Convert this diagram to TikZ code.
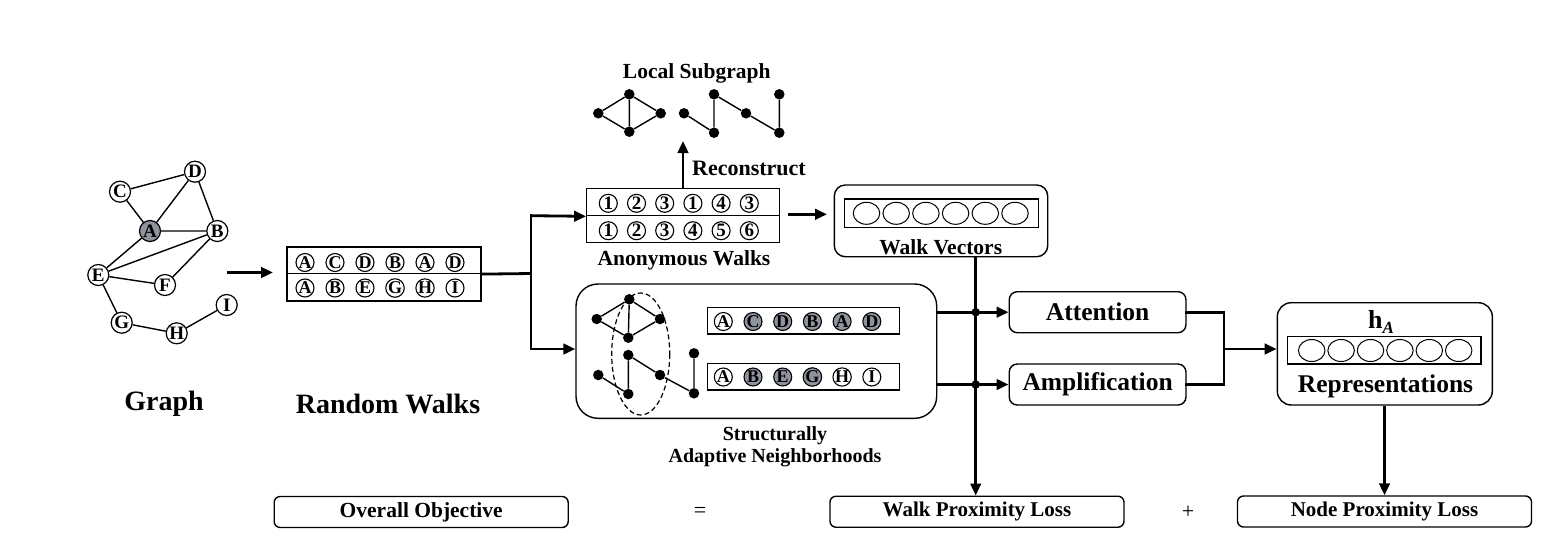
\documentclass[tikz,border=0pt]{standalone}
\usepackage{fontspec}
\setmainfont{Liberation Serif}
\usetikzlibrary{arrows.meta,shapes.geometric,calc}
\definecolor{nodegray}{RGB}{143,147,157}
\newcommand\fsz[1]{\fontsize{#1}{#1}\selectfont}
\begin{document}
\begin{tikzpicture}[x=1pt,y=-1pt,
  gnode/.style={circle,draw,fill=white,line width=1.2pt,minimum size=21pt,inner sep=0pt,font=\fsz{19}\bfseries},
  wn/.style={circle,draw,line width=1.1pt,minimum size=18pt,inner sep=0pt,font=\fsz{18}\bfseries},
  vn/.style={ellipse,draw,line width=1pt,minimum width=26.5pt,minimum height=22pt,inner sep=0pt},
  dotn/.style={circle,fill,inner sep=0pt,minimum size=10.5pt},
  jdot/.style={circle,fill,inner sep=0pt,minimum size=8.5pt},
  ed/.style={line width=1.4pt},
  garrow/.style={line width=2.8pt,-{Triangle[length=12pt,width=10.5pt]}},
  gline/.style={line width=2.8pt},
  rbox/.style={draw,rounded corners=11pt,line width=1.4pt,inner sep=0pt},
  lbox/.style={draw,rounded corners=6pt,line width=1.4pt,inner sep=0pt,minimum width=294pt,minimum height=31pt,font=\fsz{21}\bfseries},
  rowbox/.style={draw,line width=1.2pt,inner sep=0pt},
  lbl/.style={font=\fsz{21.5}\bfseries,inner sep=0pt},
  big/.style={font=\fsz{28}\bfseries,inner sep=0pt},
  mid/.style={font=\fsz{25.5}\bfseries,inner sep=0pt}
]
\useasboundingbox (0,0) rectangle (1562,552);
\fill[white] (0,0) rectangle (1562,552);

% ---------------- Graph ----------------
\node[gnode] (C) at (120,191.7) {C};
\node[gnode] (D) at (195,171.7) {D};
\node[gnode,fill=nodegray] (A) at (150,231) {A};
\node[gnode] (B) at (217.3,231) {B};
\node[gnode] (E) at (98.3,275) {E};
\node[gnode] (F) at (165,285) {F};
\node[gnode] (G) at (121.7,322.7) {G};
\node[gnode] (H) at (176.7,333.3) {H};
\node[gnode] (I) at (226.7,305) {I};
\draw[ed] (C)--(D) (C)--(A) (A)--(D) (D)--(B) (A)--(B) (A)--(E) (E)--(B)
          (B)--(F) (E)--(F) (E)--(G) (G)--(H) (H)--(I);
\node[big] (glabel) at (164,404) {Graph};

\coordinate (gaS) at (227,272.5);
\coordinate (gaE) at (273,272.5);
\draw[garrow] (gaS) -- (gaE);

% ---------------- Random walks ----------------
\node[rowbox,minimum width=194pt,minimum height=26.5pt] (rw1) at (384,260.25) {};
\node[rowbox,minimum width=194pt,minimum height=27.5pt] (rw2) at (384,287.25) {};
\foreach \l [count=\i from 0] in {A,C,D,B,A,D}
  \node[wn] (ra\i) at (305+30*\i,262.5) {\l};
\foreach \l [count=\i from 0] in {A,B,E,G,H,I}
  \node[wn] (rb\i) at (305+30*\i,288) {\l};
\node[big] (rwlabel) at (388,404) {Random Walks};

\coordinate (jr) at (531,273.5);
\coordinate (jt) at (531,215.7);
\coordinate (jb) at (531,349);
\draw[gline] (rw1.south east) -- (jr);
\draw[gline,line cap=rect] (jt) -- (jb);

% ---------------- Anonymous walks ----------------
\node[rowbox,minimum width=192.6pt,minimum height=27.4pt] (aw1) at (683,202) {};
\node[rowbox,minimum width=192.6pt,minimum height=27pt] (aw2) at (683,229.2) {};
\foreach \l [count=\i from 0] in {1,2,3,1,4,3}
  \node[wn,font=\fsz{19}\bfseries] (aa\i) at (608.3+28.2*\i,203.3) {\l};
\foreach \l [count=\i from 0] in {1,2,3,4,5,6}
  \node[wn,font=\fsz{19}\bfseries] (ab\i) at (608.3+28.2*\i,230.7) {\l};
\node[lbl] (awlabel) at (684,260) {Anonymous Walks};
\draw[garrow] (jt) -- (aw1.south west);

\coordinate (recTip) at (683,141);
\draw[garrow] (aw1.north) -- (recTip);
\node[lbl,font=\fsz{22}\bfseries] (reclabel) at (749,168.3) {Reconstruct};

% ---------------- Local subgraph ----------------
\node[lbl] (lslabel) at (696.7,73.3) {Local Subgraph};
\node[dotn] (la) at (598.3,113.3) {};
\node[dotn] (lb) at (629.3,94.3) {};
\node[dotn] (lc) at (660.7,113.3) {};
\node[dotn] (ld) at (629.3,131.7) {};
\draw[ed] (la)--(lb)--(lc)--(ld)--(la) (lb)--(ld);
\node[dotn] (le) at (684,113.3) {};
\node[dotn] (lf) at (714,132.7) {};
\node[dotn] (lg) at (714,94.3) {};
\node[dotn] (lh) at (746,113.3) {};
\node[dotn] (li) at (779.3,132.7) {};
\node[dotn] (lj) at (779.3,94.3) {};
\draw[ed] (le)--(lf)--(lg)--(lh)--(li)--(lj);

% ---------------- Walk vectors ----------------
\node[rbox,minimum width=213.4pt,minimum height=71.7pt] (wv) at (941,220.85) {};
\node[rowbox,minimum width=193.6pt,minimum height=28.3pt] (wvin) at (941.5,213.2) {};
\foreach \i in {0,...,5}
  \node[vn] (wc\i) at (866.5+29.7*\i,213.3) {};
\node[lbl] (wvlabel) at (940.7,247.3) {Walk Vectors};
\coordinate (awoS) at (788,214.3);
\coordinate (awoE) at (827,214.3);
\draw[garrow] (awoS) -- (awoE);

% ---------------- Structurally adaptive neighborhoods ----------------
\node[rbox,rounded corners=22pt,minimum width=360.7pt,minimum height=134.3pt] (san) at (756.35,351.15) {};
\draw[garrow] (jb) -- (san.west |- jb);
\draw[line width=1.2pt,dash pattern=on 5pt off 3pt] (640.7,354) ellipse [x radius=29, y radius=61];
\node[dotn] (sa) at (596.7,319) {};
\node[dotn] (sb) at (629.3,299.3) {};
\node[dotn] (sc) at (660,319) {};
\node[dotn] (sd) at (628.3,337.7) {};
\draw[ed] (sa)--(sb)--(sc)--(sd)--(sa) (sb)--(sd);
\node[dotn] (se) at (598.3,375) {};
\node[dotn] (sf) at (628.3,394) {};
\node[dotn] (sg) at (628.3,355) {};
\node[dotn] (sh) at (660,375) {};
\node[dotn] (si) at (694,393.3) {};
\node[dotn] (sj) at (694,353.3) {};
\draw[ed] (se)--(sf)--(sg)--(sh)--(si)--(sj);
\node[rowbox,minimum width=192pt,minimum height=26.3pt] (sr1) at (803.3,320.85) {};
\node[rowbox,minimum width=192pt,minimum height=26.7pt] (sr2) at (803.3,376.65) {};
\foreach \l/\f [count=\i from 0] in {A/white,C/nodegray,D/nodegray,B/nodegray,A/nodegray,D/nodegray}
  \node[wn,fill=\f] (sx\i) at (723.3+29.7*\i,321.5) {\l};
\foreach \l/\f [count=\i from 0] in {A/white,B/nodegray,E/nodegray,G/nodegray,H/white,I/white}
  \node[wn,fill=\f] (sy\i) at (723.3+29.7*\i,377) {\l};
\node[font=\fsz{20}\bfseries,align=center,inner sep=0pt] (sanlabel) at (775,446.5) {Structurally\\[2pt]Adaptive Neighborhoods};

% ---------------- Attention / Amplification ----------------
\node[rbox,rounded corners=8pt,minimum width=176.7pt,minimum height=41pt,font=\fsz{25.5}\bfseries] (att) at (1097.6,312.2) {Attention};
\node[rbox,rounded corners=8pt,minimum width=176.7pt,minimum height=41pt,font=\fsz{25.5}\bfseries] (amp) at (1097.6,384.5) {Amplification};
\coordinate (j1) at (975.7,312.2);
\coordinate (j2) at (975.7,384.5);
\draw[garrow] (san.east |- att.west) -- (att.west);
\draw[garrow] (san.east |- amp.west) -- (amp.west);
\node[jdot] (j1d) at (j1) {};
\node[jdot] (j2d) at (j2) {};

% ---------------- Representations ----------------
\node[rbox,rounded corners=14pt,minimum width=215pt,minimum height=102.3pt] (rep) at (1384.8,353.85) {};
\node[rowbox,minimum width=193.7pt,minimum height=27.3pt] (repin) at (1384.15,350.35) {};
\foreach \i in {0,...,5}
  \node[vn] (rc\i) at (1311.7+29.4*\i,350.5) {};
\node[font=\fsz{26}\bfseries,inner sep=0pt] (hA) at (1381,322) {h\raisebox{-0.35ex}{\fsz{17}\itshape A}};
\node[mid] (replabel) at (1385.5,386.7) {Representations};
\coordinate (jm) at (1224,349);
\draw[gline,line cap=rect] (att.east) -| (jm) |- (amp.east);
\draw[garrow] (jm) -- (rep.west |- jm);

% ---------------- Losses ----------------
\node[lbox,font=\fsz{21.5}\bfseries] (ov) at (421.2,512) {Overall Objective};
\node[lbox] (wl) at (977,511.7) {Walk Proximity Loss};
\node[lbox] (nl) at (1384.5,511.5) {Node Proximity Loss};
\node[font=\fsz{22},inner sep=0pt] (eq) at (700,512) {=};
\node[font=\fsz{22},inner sep=0pt] (plus) at (1188,512) {+};
\draw[garrow] (j1 |- wv.south) -- (j1 |- wl.north);
\draw[garrow] (rep.south -| nl.north) -- (nl.north);
\end{tikzpicture}
\end{document}
